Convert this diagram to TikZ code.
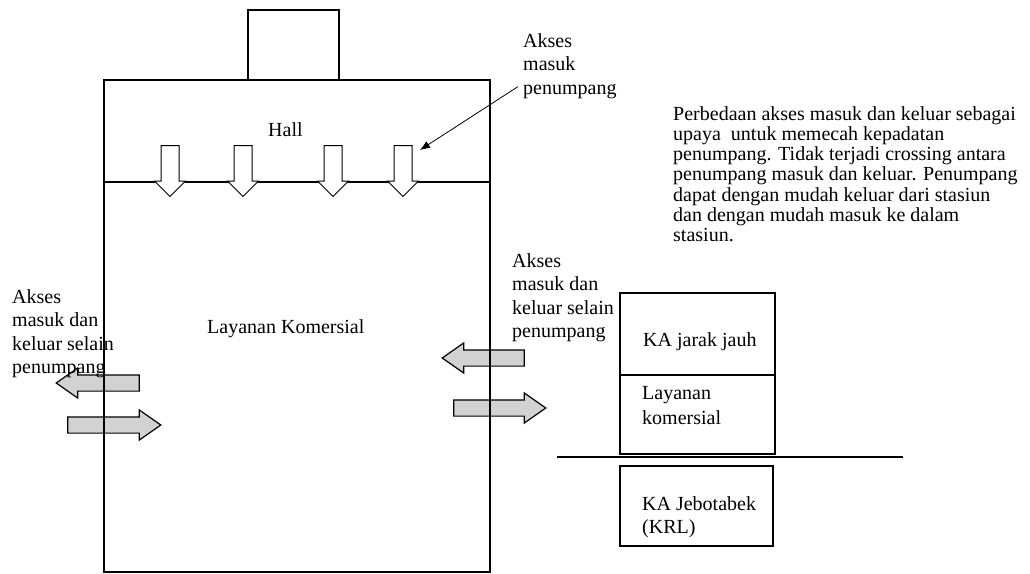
\documentclass[tikz,border=0pt]{standalone}
\usepackage{fontspec}
\setmainfont{Liberation Serif}
\usetikzlibrary{arrows.meta, shapes.arrows}

\begin{document}
\begin{tikzpicture}[x=1pt, y=-1pt,
    wall/.style={line width=1.1pt},
    label/.style={font=\fontsize{20}{23.5}\selectfont, inner sep=0pt, align=left},
    downarrow/.style={single arrow, draw, line width=1pt, fill=white, inner xsep=0pt, inner ysep=8.5pt,
      minimum height=51pt, single arrow head extend=6.5pt, rotate=-90},
    flowarrow/.style={single arrow, draw, line width=1.2pt, fill=gray!35, inner xsep=0pt, inner ysep=7.5pt,
      single arrow head extend=7pt, single arrow tip angle=70},
    lead/.style={-{Latex[length=10pt, width=8pt]}, line width=0.8pt}
  ]
  \useasboundingbox (0,0) rectangle (1030,573);

  % gray flow arrows (walls are drawn over them)
  \node[flowarrow, minimum height=83pt, rotate=180] (outL) at (103.5,383) {};
  \node[flowarrow, minimum height=93pt] (inL) at (108.5,425) {};
  \node[flowarrow, minimum height=82pt, rotate=180] (outR) at (489,358) {};
  \node[flowarrow, minimum height=92pt] (inR) at (494,408) {};

  % station building
  \draw[wall] (248,80) |- (339,10) -- (339,80);
  \draw[wall] (104,80) rectangle (490,572);
  \draw[wall] (104,182) -- (490,182);
  \foreach \x [count=\i] in {170,243,333,403}
    \node[downarrow] (in\i) at (\x,166.5) {};

  \node[label, anchor=west] (hall) at (268,130) {Hall};
  \node[label, anchor=west] (komersial) at (207,329) {Layanan Komersial};

  % labels
  \node[label, anchor=north west] (aksesTop) at (523,33) {Akses\\masuk\\penumpang};
  \coordinate (hallpt) at (420,150);
  \draw[lead] ([shift={(-5,-12)}]aksesTop.south west) -- (hallpt);

  \node[label, anchor=north west] (aksesLeft) at (12,289) {Akses\\masuk dan\\keluar selain\\penumpang};
  \node[label, anchor=north west] (aksesRight) at (512,253) {Akses\\masuk dan\\keluar selain\\penumpang};

  \node[label, anchor=north west, font=\fontsize{20}{20.3}\selectfont] (note) at (673,106)
    {Perbedaan akses masuk dan keluar sebagai\\upaya\ \ untuk memecah kepadatan\\penumpang. Tidak terjadi crossing antara\\penumpang masuk dan keluar. Penumpang\\dapat dengan mudah keluar dari stasiun\\dan dengan mudah masuk ke dalam\\stasiun.};

  % section of levels
  \draw[wall] (620,293) rectangle (775,454);
  \draw[wall] (620,375) -- (775,375);
  \draw[wall] (557,457) -- (903,457);
  \draw[wall] (620,466) rectangle (773,546);
  \node[label, anchor=west] (jarakjauh) at (643,342) {KA jarak jauh};
  \node[label, anchor=north west, font=\fontsize{20}{25}\selectfont] (komersialKA) at (642,386) {Layanan\\komersial};
  \node[label, anchor=north west] (krl) at (642,496) {KA Jebotabek\\(KRL)};
\end{tikzpicture}
\end{document}
